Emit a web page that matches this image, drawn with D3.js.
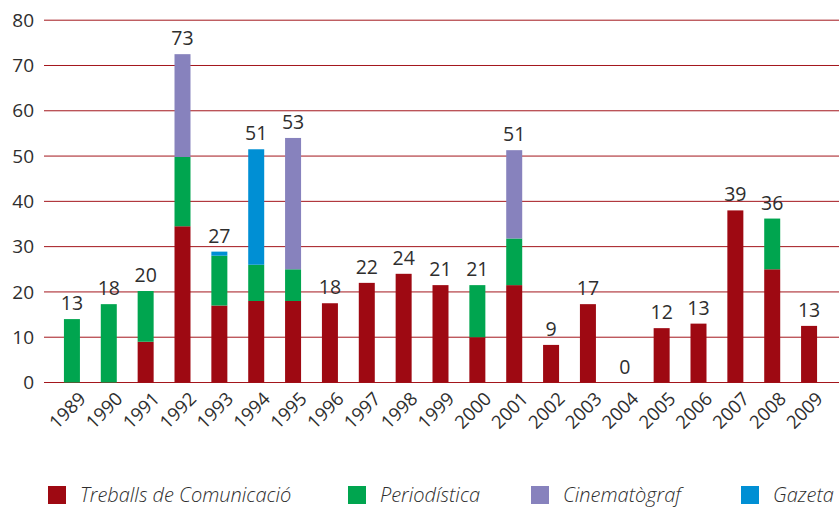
<!DOCTYPE html>
<html>
<head>
<meta charset="utf-8">
<script src="https://cdn.jsdelivr.net/npm/d3@7"></script>
<style>
  body { margin: 0; background: #fff; }
  text { font-family: "Open Sans", "Noto Sans", sans-serif; fill: #2e2e2e; }
</style>
</head>
<body>
<div id="chart"></div>
<script>
// data
var years = ["1989","1990","1991","1992","1993","1994","1995","1996","1997","1998","1999",
             "2000","2001","2002","2003","2004","2005","2006","2007","2008","2009"];
var treballs     = [0, 0, 9, 34.5, 17, 18, 18, 17.5, 22, 24, 21.5, 10, 21.5, 8.3, 17.3, 0, 12, 13, 38, 25, 12.5];
var periodistica = [14, 17.3, 11.2, 15.3, 11, 8, 7, 0, 0, 0, 0, 11.5, 10.3, 0, 0, 0, 0, 0, 0, 11.2, 0];
var cinematograf = [0, 0, 0, 22.7, 0, 0, 29, 0, 0, 0, 0, 0, 19.5, 0, 0, 0, 0, 0, 0, 0, 0];
var gazeta       = [0, 0, 0, 0, 0.9, 25.5, 0, 0, 0, 0, 0, 0, 0, 0, 0, 0, 0, 0, 0, 0, 0];
var totals       = [13, 18, 20, 73, 27, 51, 53, 18, 22, 24, 21, 21, 51, 9, 17, 0, 12, 13, 39, 36, 13];
var yTicks = [0, 10, 20, 30, 40, 50, 60, 70, 80];

var seriesNames  = ["Treballs de Comunicació", "Periodística", "Cinematògraf", "Gazeta"];
var seriesColors = ["#9e0912", "#00a54f", "#8782bd", "#008fd4"];

var width = 839, height = 508;

var svg = d3.select("#chart")
  .append("svg")
    .attr("width", width)
    .attr("height", height);

var rows = years.map(function(y, i) {
  return {year: y, s0: treballs[i], s1: periodistica[i], s2: cinematograf[i], s3: gazeta[i], total: totals[i]};
});

var x = d3.scaleBand()
  .domain(years)
  .range([53.5, 827.5])
  .paddingInner(0.566)
  .paddingOuter(0.283);

var y = d3.scaleLinear()
  .domain([0, 80])
  .range([382.5, 20.2]);

// grid lines
svg.append("g")
  .selectAll("line")
  .data(yTicks)
  .enter()
  .append("line")
    .attr("x1", 44)
    .attr("x2", width)
    .attr("y1", function(d) { return y(d); })
    .attr("y2", function(d) { return y(d); })
    .attr("stroke", "#a3161c")
    .attr("stroke-width", 1);

// Y axis labels
var yAxis = svg.append("g")
  .attr("transform", "translate(40,0)")
  .call(d3.axisLeft(y).tickValues(yTicks).tickSize(0).tickPadding(6));
yAxis.select(".domain").remove();
yAxis.selectAll("text")
  .style("font-size", "19px")
  .attr("fill", "#2e2e2e");

// stacked bars
var stack = d3.stack().keys(["s0", "s1", "s2", "s3"]);
var layers = stack(rows);

svg.append("g")
  .selectAll("g")
  .data(layers)
  .enter()
  .append("g")
    .attr("fill", function(d, i) { return seriesColors[i]; })
  .selectAll("rect")
  .data(function(d) { return d; })
  .enter()
  .append("rect")
    .attr("x", function(d) { return x(d.data.year); })
    .attr("y", function(d) { return y(d[1]); })
    .attr("width", x.bandwidth())
    .attr("height", function(d) { return y(d[0]) - y(d[1]); });

// value labels
svg.append("g")
  .selectAll("text")
  .data(rows)
  .enter()
  .append("text")
    .attr("x", function(d) { return x(d.year) + x.bandwidth() / 2; })
    .attr("y", function(d) { return y(d.s0 + d.s1 + d.s2 + d.s3) - 9; })
    .attr("text-anchor", "middle")
    .style("font-size", "19.5px")
    .text(function(d) { return d.total; });

// X axis labels, rotated
svg.append("g")
  .selectAll("text")
  .data(years)
  .enter()
  .append("text")
    .attr("transform", function(d) {
      return "translate(" + (x(d) + x.bandwidth() / 2 + 15) + ",400) rotate(-45)";
    })
    .attr("text-anchor", "end")
    .style("font-size", "18.5px")
    .text(function(d) { return d; });

// legend
var legendX = [48, 348, 531, 741];
var legend = svg.append("g")
  .selectAll("g")
  .data(seriesNames)
  .enter()
  .append("g")
    .attr("transform", function(d, i) { return "translate(" + legendX[i] + ",486)"; });
legend.append("rect")
  .attr("width", 18)
  .attr("height", 18)
  .attr("fill", function(d, i) { return seriesColors[i]; });
legend.append("text")
  .attr("x", 32)
  .attr("y", 16)
  .style("font-size", "20px")
  .style("font-style", "italic")
  .style("font-weight", "300")
  .text(function(d) { return d; });
</script>
</body>
</html>
